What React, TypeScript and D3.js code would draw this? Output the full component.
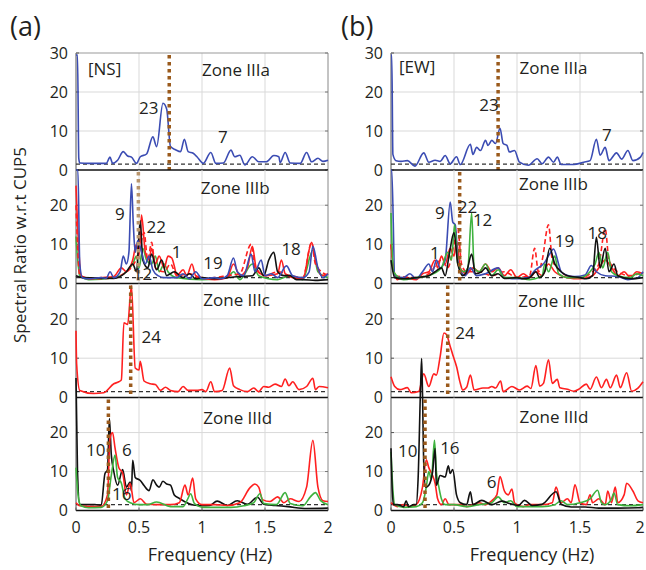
import React from 'react';
import * as d3 from 'd3';

type Pt = [number, number];

// ---------- axis / tick values ----------
const FREQ_TICKS = [0, 0.5, 1, 1.5, 2];
const FREQ_TICK_LABELS = ['0', '0.5', '1', '1.5', '2'];
const RATIO_TICKS = [0, 10, 20];
const TOP_TICK = 30;
const THRESHOLD = 1.5;
const ZONES = ['Zone IIIa', 'Zone IIIb', 'Zone IIIc', 'Zone IIId'];
const ROW_MAX = [30, 29, 29, 29];

// predominant-frequency markers (Hz) per zone
const NS_PEAKS = [0.74, 0.495, 0.434, 0.257];
const EW_PEAKS = [0.85, 0.545, 0.45, 0.27];

// ---------- NS series ----------
const NS_IIIa_blue: Pt[] = [[0,29.5],[0.012,29.5],[0.022,3],[0.03,1.8],[0.1,1.7],[0.2,1.7],[0.24,1.7],[0.27,3.3],[0.29,1.7],[0.33,2.5],[0.375,4.7],[0.41,3.6],[0.44,3.3],[0.48,1.7],[0.51,3.4],[0.56,4.1],[0.61,8.5],[0.64,6.0],[0.69,17.1],[0.72,15.6],[0.75,6],[0.79,5.2],[0.83,4.7],[0.86,7.9],[0.89,4.7],[0.93,4.3],[0.96,3.4],[1.01,1.7],[1.07,4.5],[1.11,1.7],[1.17,1.8],[1.23,5.1],[1.26,3.4],[1.3,3.8],[1.34,1.3],[1.4,3.4],[1.45,2.1],[1.51,2.1],[1.57,3.7],[1.61,3.4],[1.62,1.9],[1.66,4.5],[1.7,1.8],[1.78,1.7],[1.83,4.5],[1.87,2.1],[1.92,3.0],[1.96,2.2],[2.0,2.5]];

const NS_IIIb_blue: Pt[] = [[0,29],[0.015,29],[0.03,5],[0.05,1.5],[0.1,1.2],[0.2,1.5],[0.24,1.3],[0.27,3.0],[0.3,1.5],[0.35,3],[0.375,7],[0.4,5],[0.42,8],[0.44,25.5],[0.455,15],[0.47,8],[0.49,11],[0.52,8],[0.55,5],[0.58,7],[0.61,3.5],[0.65,2],[0.7,1.5],[0.8,1.5],[0.85,2.5],[0.9,1.2],[0.95,3],[1.0,1.2],[1.1,1.5],[1.15,1.2],[1.2,2],[1.25,6.5],[1.28,3],[1.33,2],[1.39,7.5],[1.42,3],[1.47,6],[1.5,2],[1.55,2.5],[1.6,1.5],[1.67,4.5],[1.72,2],[1.8,1.5],[1.85,3],[1.88,9.5],[1.92,4],[1.96,1.5],[2.0,2.5]];
const NS_IIIb_red: Pt[] = [[0,25],[0.02,10],[0.04,2],[0.1,1.2],[0.2,1.5],[0.3,1.8],[0.36,4],[0.4,3],[0.45,6],[0.48,10],[0.5,7],[0.52,17.5],[0.55,8],[0.58,6],[0.6,9],[0.63,5],[0.66,7],[0.7,4],[0.73,7],[0.76,6.5],[0.78,4.5],[0.8,2],[0.85,3.5],[0.88,2],[0.92,5],[0.95,2],[1.0,1.5],[1.1,1.0],[1.2,1.5],[1.25,5],[1.3,2],[1.36,4],[1.4,9.5],[1.43,4],[1.5,2],[1.6,2.5],[1.63,6],[1.66,2.5],[1.72,1.5],[1.8,1.2],[1.87,10.5],[1.9,6],[1.95,2],[2.0,2.5]];
const NS_IIIb_redDash: Pt[] = [[0,20],[0.03,2],[0.15,1.2],[0.3,1.5],[0.4,3],[0.46,5],[0.5,8],[0.54,13],[0.57,6],[0.6,10.5],[0.63,4],[0.7,3],[0.75,5],[0.8,2],[0.9,2.5],[1.0,1.2],[1.1,1.5],[1.2,2],[1.3,2.5],[1.39,10],[1.42,4],[1.5,2],[1.6,3],[1.7,2],[1.8,1.5],[1.87,10.5],[1.9,5],[2.0,2]];
const NS_IIIb_green: Pt[] = [[0,12],[0.03,2],[0.1,1],[0.3,1.5],[0.4,3],[0.45,5],[0.48,7],[0.5,4],[0.53,9],[0.56,6],[0.6,5],[0.63,7],[0.66,3],[0.7,5],[0.73,3],[0.8,1.5],[1.0,1.0],[1.2,1.5],[1.25,3],[1.3,1],[1.4,5],[1.45,2],[1.6,1],[1.7,2],[1.8,1],[1.88,8.5],[1.92,3],[2.0,1.5]];
const NS_IIIb_black: Pt[] = [[0,2],[0.05,1.5],[0.3,1.3],[0.4,3],[0.45,5],[0.48,3],[0.51,16],[0.53,6],[0.57,4],[0.6,7.5],[0.64,3.5],[0.68,6],[0.72,2],[0.78,3],[0.85,1.5],[0.9,2.5],[0.95,1.2],[1.0,1.5],[1.1,1.2],[1.2,1.5],[1.3,1.8],[1.4,2],[1.45,4],[1.49,2],[1.53,6],[1.57,8],[1.6,3],[1.65,2],[1.7,2],[1.75,1],[1.8,1],[1.9,0.8],[2.0,1]];

const NS_IIIc_red: Pt[] = [[0,17],[0.005,8.6],[0.03,1.8],[0.14,1.0],[0.22,1.2],[0.3,3.5],[0.34,4],[0.36,4.5],[0.38,19],[0.41,18.6],[0.44,28.4],[0.47,7.5],[0.5,7],[0.51,9.2],[0.54,4.2],[0.59,3.5],[0.63,3.3],[0.67,1.8],[0.71,2.6],[0.75,1.8],[0.81,1.5],[0.85,2.8],[0.89,1.8],[0.96,1.8],[1.0,2.0],[1.03,1.5],[1.07,4],[1.1,1.5],[1.16,1.8],[1.22,7.5],[1.25,3],[1.3,2],[1.36,1.5],[1.41,2.4],[1.45,1.5],[1.49,2.8],[1.53,2.6],[1.58,3.4],[1.63,2.8],[1.66,4.7],[1.69,3.0],[1.72,4],[1.77,2],[1.83,2.8],[1.88,4.9],[1.9,2],[1.93,2.8],[2.0,2.5]];

const NS_IIId_black: Pt[] = [[0,34],[0.012,10],[0.03,1.5],[0.15,1.5],[0.2,1.3],[0.23,9.5],[0.25,10.4],[0.265,23.6],[0.28,14.4],[0.3,10],[0.33,6.5],[0.37,10.5],[0.4,6],[0.43,7.3],[0.44,5],[0.45,12.9],[0.47,8.5],[0.51,7.7],[0.54,6.4],[0.58,5.1],[0.61,7.9],[0.64,6.5],[0.66,6],[0.69,7.5],[0.72,6.8],[0.75,6.5],[0.78,4],[0.82,3.1],[0.86,2.3],[0.93,1.4],[1.0,1.2],[1.06,1.3],[1.12,2.4],[1.2,1.3],[1.28,2.5],[1.36,1.6],[1.44,3.4],[1.49,1.6],[1.58,1.3],[1.68,1.0],[1.83,0.5],[2.0,0.6]];
const NS_IIId_red: Pt[] = [[0,2],[0.03,1.2],[0.1,1.0],[0.2,1],[0.25,4],[0.27,18.5],[0.29,20],[0.31,16],[0.34,11],[0.37,9.6],[0.4,4],[0.43,7],[0.46,2],[0.51,3],[0.56,1.6],[0.65,1.5],[0.75,1.5],[0.82,2],[0.865,6.5],[0.89,4],[0.926,8.3],[0.95,3],[1.0,1.5],[1.1,1.5],[1.2,1.3],[1.3,2],[1.38,5.8],[1.42,6.8],[1.45,6],[1.48,2.8],[1.54,2.3],[1.6,3.5],[1.65,2],[1.7,3],[1.77,2.3],[1.83,6],[1.88,18],[1.92,6],[1.96,2.5],[2.0,2.3]];
const NS_IIId_green: Pt[] = [[0,11],[0.02,3],[0.04,1.2],[0.1,0.7],[0.2,0.8],[0.25,2.5],[0.28,9],[0.31,14.2],[0.33,8.5],[0.36,7],[0.39,3],[0.43,2],[0.5,1.5],[0.57,1.5],[0.64,2.2],[0.75,1],[0.85,1],[0.89,3.2],[0.91,4.3],[0.94,1.8],[1.01,0.8],[1.23,0.8],[1.33,1.2],[1.41,2],[1.46,4.3],[1.49,1.8],[1.59,1.5],[1.66,4.6],[1.7,1.8],[1.8,1.2],[1.86,3.5],[1.9,4.6],[1.94,2.6],[2.0,1.5]];

// ---------- EW series ----------
const EW_IIIa_blue: Pt[] = [[0,29.5],[0.006,29.5],[0.015,4],[0.04,2.4],[0.08,2.2],[0.13,2.4],[0.19,1.0],[0.26,4.4],[0.3,2],[0.35,2.5],[0.39,2.2],[0.43,3.7],[0.47,1.6],[0.52,3.4],[0.55,1.4],[0.63,6.6],[0.65,4],[0.68,5.8],[0.71,5],[0.75,7.6],[0.77,6.3],[0.8,7.6],[0.83,6.8],[0.865,10.7],[0.89,6.8],[0.92,6.3],[0.94,4.6],[0.98,5],[1.02,2],[1.09,1.2],[1.16,2.9],[1.2,1.6],[1.25,3.3],[1.29,2],[1.32,3.3],[1.35,1.4],[1.45,1.4],[1.53,2],[1.58,2.4],[1.63,7.9],[1.66,3.8],[1.7,5.8],[1.73,2.4],[1.79,4.4],[1.83,2.8],[1.88,5],[1.92,2.4],[1.98,3.3],[2.0,4.5]];

const EW_IIIb_blue: Pt[] = [[0,29],[0.006,29],[0.03,2],[0.1,1.5],[0.15,2.5],[0.2,1.2],[0.25,3],[0.3,5],[0.33,3],[0.36,6],[0.39,4],[0.43,6],[0.47,20.8],[0.49,15.7],[0.51,15],[0.535,4.6],[0.59,2],[0.63,4],[0.68,2],[0.75,2.5],[0.85,4],[0.9,1.5],[0.99,1.2],[1.09,1.5],[1.14,3.3],[1.22,5.4],[1.26,7.6],[1.29,8.8],[1.33,5],[1.35,3],[1.39,2.2],[1.46,1.8],[1.54,2.2],[1.59,4.6],[1.63,3],[1.7,2],[1.8,1.8],[1.88,1],[1.96,1.5],[2.0,3]];
const EW_IIIb_red: Pt[] = [[0,10],[0.02,4],[0.05,1],[0.1,1.5],[0.2,1.0],[0.25,2.5],[0.3,3],[0.35,6],[0.37,4],[0.4,7],[0.43,5],[0.47,9],[0.5,7],[0.52,11],[0.55,4],[0.6,2.5],[0.65,4],[0.7,3],[0.75,5],[0.8,3],[0.85,4],[0.9,2],[0.95,3.5],[1.0,1.5],[1.05,2.5],[1.1,1.5],[1.15,3],[1.2,2],[1.25,5],[1.3,3],[1.4,1.5],[1.5,1.2],[1.6,2],[1.65,4],[1.7,6],[1.75,4],[1.8,2],[1.85,3],[1.9,1.5],[1.95,3],[2.0,2.5]];
const EW_IIIb_redDash: Pt[] = [[0,10],[0.03,2],[0.2,1.5],[0.3,2.5],[0.4,6],[0.45,4],[0.5,10],[0.53,14],[0.56,5],[0.6,3],[0.7,3],[0.8,2],[0.9,3],[1.0,1.5],[1.1,2],[1.14,9],[1.17,3],[1.2,6],[1.25,15],[1.28,6],[1.32,4],[1.4,2],[1.5,1.5],[1.6,3],[1.65,5],[1.7,14],[1.73,6],[1.8,3],[1.9,2],[2.0,3]];
const EW_IIIb_green: Pt[] = [[0,18],[0.02,3],[0.1,1],[0.2,1.5],[0.3,2],[0.4,4],[0.45,8],[0.48,6],[0.505,15],[0.53,5],[0.58,3],[0.61,4],[0.64,18],[0.66,4],[0.7,3],[0.75,5],[0.8,2],[0.85,3.5],[0.9,1.5],[1.0,1.5],[1.1,1.0],[1.2,2],[1.22,5],[1.25,3],[1.3,7],[1.33,2.5],[1.4,1.5],[1.5,1.5],[1.58,3],[1.62,5],[1.65,8],[1.68,4],[1.72,8],[1.75,3],[1.8,2],[1.9,1.5],[1.95,2.5],[2.0,2]];
const EW_IIIb_black: Pt[] = [[0,6],[0.03,1.5],[0.1,1.2],[0.2,1.5],[0.3,2],[0.35,3],[0.4,4],[0.43,2],[0.46,7],[0.5,13],[0.53,5],[0.57,2],[0.6,3],[0.64,7.5],[0.67,2.5],[0.72,3],[0.75,4],[0.8,2],[0.85,2.5],[0.9,1.3],[1.0,1.5],[1.05,1.2],[1.1,1.5],[1.15,3],[1.18,1.5],[1.22,3],[1.26,9],[1.3,5],[1.35,3],[1.4,2],[1.5,1.5],[1.55,1.2],[1.6,2],[1.63,11.8],[1.66,4],[1.7,9],[1.73,3],[1.77,5],[1.8,2],[1.9,1.2],[2.0,1.5]];

const EW_IIIc_red: Pt[] = [[0,5.3],[0.03,2.8],[0.07,2],[0.13,2.5],[0.16,1.2],[0.22,1.5],[0.26,6],[0.3,2.8],[0.34,6],[0.36,5.7],[0.39,10.4],[0.42,16.4],[0.44,16],[0.47,13],[0.49,10.9],[0.52,7.9],[0.55,3.6],[0.57,1.9],[0.6,2.6],[0.63,5.7],[0.66,1.9],[0.73,2.4],[0.77,2.4],[0.8,2.8],[0.83,2.4],[0.87,4.2],[0.89,1.5],[0.96,2.8],[1.02,1.9],[1.08,2.9],[1.11,2.3],[1.15,8.1],[1.18,2.9],[1.21,3.6],[1.25,9.6],[1.28,3.6],[1.32,4.6],[1.34,2.5],[1.4,2.1],[1.45,1.6],[1.49,2.1],[1.55,3.4],[1.58,2.1],[1.63,5.2],[1.67,2.5],[1.71,4.6],[1.74,2.5],[1.79,5.7],[1.82,2.5],[1.87,6.3],[1.91,1.6],[1.96,2.4],[2.0,4]];

const EW_IIId_black: Pt[] = [[0,16],[0.01,5],[0.02,1.5],[0.05,1.5],[0.1,1],[0.12,2.5],[0.14,1],[0.18,1.5],[0.2,1.5],[0.215,8],[0.235,32],[0.243,39],[0.25,30],[0.26,12],[0.275,6],[0.3,6.5],[0.33,9.9],[0.35,15.9],[0.36,6.5],[0.39,9],[0.43,8.6],[0.455,11.5],[0.47,9.5],[0.49,10.5],[0.52,4],[0.55,2],[0.6,1.5],[0.63,4.8],[0.65,1.5],[0.72,2.6],[0.8,1.5],[0.88,2.4],[0.94,1.8],[1.01,1.3],[1.06,2.6],[1.12,1.3],[1.2,1.6],[1.31,4.8],[1.35,1.6],[1.43,0.9],[1.54,0.9],[1.65,0.6],[1.8,0.6],[1.96,0.7],[2.0,0.8]];
const EW_IIId_red: Pt[] = [[0,2],[0.05,1],[0.1,1.5],[0.15,1],[0.2,1.5],[0.25,6],[0.28,13],[0.3,11],[0.33,9],[0.35,7],[0.37,3],[0.4,1.5],[0.43,3],[0.46,1.5],[0.55,1.5],[0.6,1],[0.7,2],[0.75,1.5],[0.8,2.5],[0.84,4],[0.865,8.7],[0.9,5],[0.93,4],[0.96,5.5],[0.98,2],[1.0,1.5],[1.05,1],[1.1,1.5],[1.2,1.5],[1.28,2],[1.31,6],[1.35,2],[1.4,3],[1.43,2],[1.46,6.6],[1.5,2],[1.55,1.5],[1.58,4],[1.6,2],[1.65,3],[1.7,1.5],[1.72,5],[1.75,2],[1.78,6],[1.8,2],[1.85,4],[1.87,7],[1.92,5],[1.96,2.5],[2.0,2]];
const EW_IIId_green: Pt[] = [[0,15],[0.01,8],[0.03,1.5],[0.1,0.8],[0.2,1],[0.25,2],[0.28,6],[0.3,10],[0.32,8],[0.345,18],[0.36,10],[0.38,6],[0.4,3],[0.43,1.5],[0.5,1.5],[0.6,1],[0.7,1.5],[0.8,2],[0.85,3.5],[0.9,2],[0.95,2.5],[1.0,1],[1.1,1],[1.2,1],[1.3,1.5],[1.35,2.5],[1.4,1.5],[1.5,2],[1.58,3],[1.64,5.2],[1.67,2],[1.7,1.5],[1.75,3],[1.77,4.5],[1.8,1.5],[1.9,1.2],[2.0,1.5]];

// ---------- annotations [row, text, freq, ratio] ----------
const NS_LABELS: [number, string, number, number][] = [
  [0, '[NS]', 0.095, 24.4], [0, 'Zone IIIa', 1.0, 24.1], [0, '23', 0.5, 14.4], [0, '7', 1.127, 6.9],
  [1, 'Zone IIIb', 0.99, 22.8], [1, '9', 0.31, 16.1], [1, '22', 0.56, 12.8], [1, '1', 0.76, 6.6], [1, '12', 0.45, 1.0], [1, '19', 1.01, 3.8], [1, '18', 1.63, 7.2],
  [2, 'Zone IIIc', 1.01, 23.4], [2, '24', 0.52, 13.9],
  [3, 'Zone IIId', 1.01, 22.1], [3, '10', 0.08, 13.9], [3, '6', 0.365, 13.9], [3, '16', 0.285, 2.7],
];
const EW_LABELS: [number, string, number, number][] = [
  [0, '[EW]', 0.063, 24.9], [0, 'Zone IIIa', 1.02, 24.6], [0, '23', 0.70, 15.1], [0, '7', 1.675, 7.4],
  [1, 'Zone IIIb', 1.016, 24.0], [1, '9', 0.35, 16.4], [1, '22', 0.53, 18], [1, '12', 0.65, 14.7], [1, '1', 0.31, 6.3], [1, '19', 1.30, 9.3], [1, '18', 1.56, 11.3],
  [2, 'Zone IIIc', 1.01, 22.9], [2, '24', 0.51, 15],
  [3, 'Zone IIId', 1.02, 22.4], [3, '10', 0.056, 13.7], [3, '16', 0.39, 14.5], [3, '6', 0.76, 5.8],
];

// ---------- styling ----------
const BLUE = '#3b4cb3';
const RED = '#ff2020';
const GREEN = '#3fb23f';
const BLACK = '#111111';
const BROWN = '#9a5a1c';
const TAN = '#b8946c';
const FONT = '"Open Sans", "Noto Sans", sans-serif';
const TEXT = '#231f20';
const PAGE_W = 646;

interface Series { data: Pt[]; color: string; dash?: string }

const NS_ROWS: Series[][] = [
  [{ data: NS_IIIa_blue, color: BLUE }],
  [{ data: NS_IIIb_green, color: GREEN }, { data: NS_IIIb_red, color: RED }, { data: NS_IIIb_redDash, color: RED, dash: '5,3' }, { data: NS_IIIb_black, color: BLACK }, { data: NS_IIIb_blue, color: BLUE }],
  [{ data: NS_IIIc_red, color: RED }],
  [{ data: NS_IIId_black, color: BLACK }, { data: NS_IIId_red, color: RED }, { data: NS_IIId_green, color: GREEN }],
];
const EW_ROWS: Series[][] = [
  [{ data: EW_IIIa_blue, color: BLUE }],
  [{ data: EW_IIIb_red, color: RED }, { data: EW_IIIb_redDash, color: RED, dash: '5,3' }, { data: EW_IIIb_blue, color: BLUE }, { data: EW_IIIb_green, color: GREEN }, { data: EW_IIIb_black, color: BLACK }],
  [{ data: EW_IIIc_red, color: RED }],
  [{ data: EW_IIId_red, color: RED }, { data: EW_IIId_green, color: GREEN }, { data: EW_IIId_black, color: BLACK }],
];

const ROW_TOP = [53, 170, 283.5, 397.5];
const ROW_BOTTOM = [170, 283.5, 397.5, 510.5];

interface PanelDef { x0: number; x1: number; tag: string; tagX: number; rows: Series[][]; peaks: number[]; labels: [number, string, number, number][]; peakColors: string[]; xTitle: number }

const PANELS: PanelDef[] = [
  { x0: 76, x1: 328, tag: '(a)', tagX: 10, rows: NS_ROWS, peaks: NS_PEAKS, labels: NS_LABELS, peakColors: [BROWN, TAN, BROWN, BROWN], xTitle: 210 },
  { x0: 391, x1: 643, tag: '(b)', tagX: 341, rows: EW_ROWS, peaks: EW_PEAKS, labels: EW_LABELS, peakColors: [BROWN, BROWN, BROWN, BROWN], xTitle: 532 },
];

function Panel({ p }: { p: PanelDef }) {
  const x = d3.scaleLinear().domain([0, 2]).range([p.x0, p.x1]);
  return (
    <g>
      <text x={p.tagX} y={36} fontSize={27} fill={TEXT} fontFamily={FONT}>{p.tag}</text>
      {ZONES.map((_, r) => {
        const y = d3.scaleLinear().domain([0, ROW_MAX[r]]).range([ROW_BOTTOM[r], ROW_TOP[r]]);
        const line = d3.line<Pt>().x(d => x(d[0])).y(d => y(d[1])).curve(d3.curveMonotoneX);
        const ticks = r === 0 ? [...RATIO_TICKS, TOP_TICK] : RATIO_TICKS;
        return (
          <g key={r}>
            {FREQ_TICKS.slice(1, -1).map(f => (
              <line key={'gx' + f} x1={x(f)} x2={x(f)} y1={ROW_TOP[r]} y2={ROW_BOTTOM[r]} stroke="#d9d9d9" strokeWidth={1} />
            ))}
            {RATIO_TICKS.slice(1).map(v => (
              <line key={'gy' + v} x1={p.x0} x2={p.x1} y1={y(v)} y2={y(v)} stroke="#d9d9d9" strokeWidth={1} />
            ))}
            <line x1={p.x0} x2={p.x0} y1={ROW_TOP[r]} y2={ROW_BOTTOM[r]} stroke="#555" strokeWidth={1} />
            <line x1={p.x1} x2={p.x1} y1={ROW_TOP[r]} y2={ROW_BOTTOM[r]} stroke="#888" strokeWidth={1} />
            {r === 0 && <line x1={p.x0} x2={p.x1} y1={ROW_TOP[r]} y2={ROW_TOP[r]} stroke="#999" strokeWidth={1} />}
            {ticks.map(v => (
              <g key={'t' + v}>
                <line x1={p.x0} x2={p.x0 + 3} y1={y(v)} y2={y(v)} stroke="#555" />
                <line x1={p.x1 - 3} x2={p.x1} y1={y(v)} y2={y(v)} stroke="#777" />
                <text x={p.x0 - 8} y={y(v)} dy="0.36em" textAnchor="end" fontSize={16} fill={TEXT} fontFamily={FONT}>{v}</text>
              </g>
            ))}
            <line x1={p.x0} x2={p.x1} y1={y(THRESHOLD)} y2={y(THRESHOLD)} stroke="#333" strokeWidth={1.2} strokeDasharray="4,3" />
            {p.rows[r].map((s, i) => (
              <path key={i} d={line(s.data) || ''} fill="none" stroke={s.color} strokeWidth={1.6} strokeDasharray={s.dash} strokeLinejoin="round" />
            ))}
            <line x1={x(p.peaks[r])} x2={x(p.peaks[r])} y1={ROW_TOP[r] + 2} y2={ROW_BOTTOM[r]} stroke={p.peakColors[r]} strokeWidth={3.5} strokeDasharray="3.5,3.5" />
            <line x1={p.x0} x2={p.x1} y1={ROW_BOTTOM[r]} y2={ROW_BOTTOM[r]} stroke="#111" strokeWidth={1.6} />
            {p.labels.filter(l => l[0] === r).map((l, i) => (
              <text key={'l' + i} x={x(l[2])} y={y(l[3])} fontSize={17} fill={TEXT} fontFamily={FONT}>{l[1]}</text>
            ))}
          </g>
        );
      })}
      {FREQ_TICKS.map((f, i) => (
        <g key={'xt' + f}>
          <line x1={x(f)} x2={x(f)} y1={ROW_BOTTOM[3]} y2={ROW_BOTTOM[3] - 3} stroke="#555" />
          <text x={Math.min(x(f), PAGE_W - 6)} y={533} textAnchor="middle" fontSize={16} fill={TEXT} fontFamily={FONT}>{FREQ_TICK_LABELS[i]}</text>
        </g>
      ))}
      <text x={p.xTitle} y={561} textAnchor="middle" fontSize={18} fill={TEXT} fontFamily={FONT}>Frequency (Hz)</text>
    </g>
  );
}

export default function App() {
  return (
    <svg width={PAGE_W} height={570} style={{ position: 'absolute', left: 0, top: 0, background: '#fff' }}>
      <rect x={0} y={0} width={PAGE_W} height={570} fill="#fff" />
      <text transform="translate(26,245) rotate(-90)" textAnchor="middle" fontSize={17} fill={TEXT} fontFamily={FONT}>Spectral Ratio w.r.t CUP5</text>
      {PANELS.map((p, i) => <Panel key={i} p={p} />)}
    </svg>
  );
}
